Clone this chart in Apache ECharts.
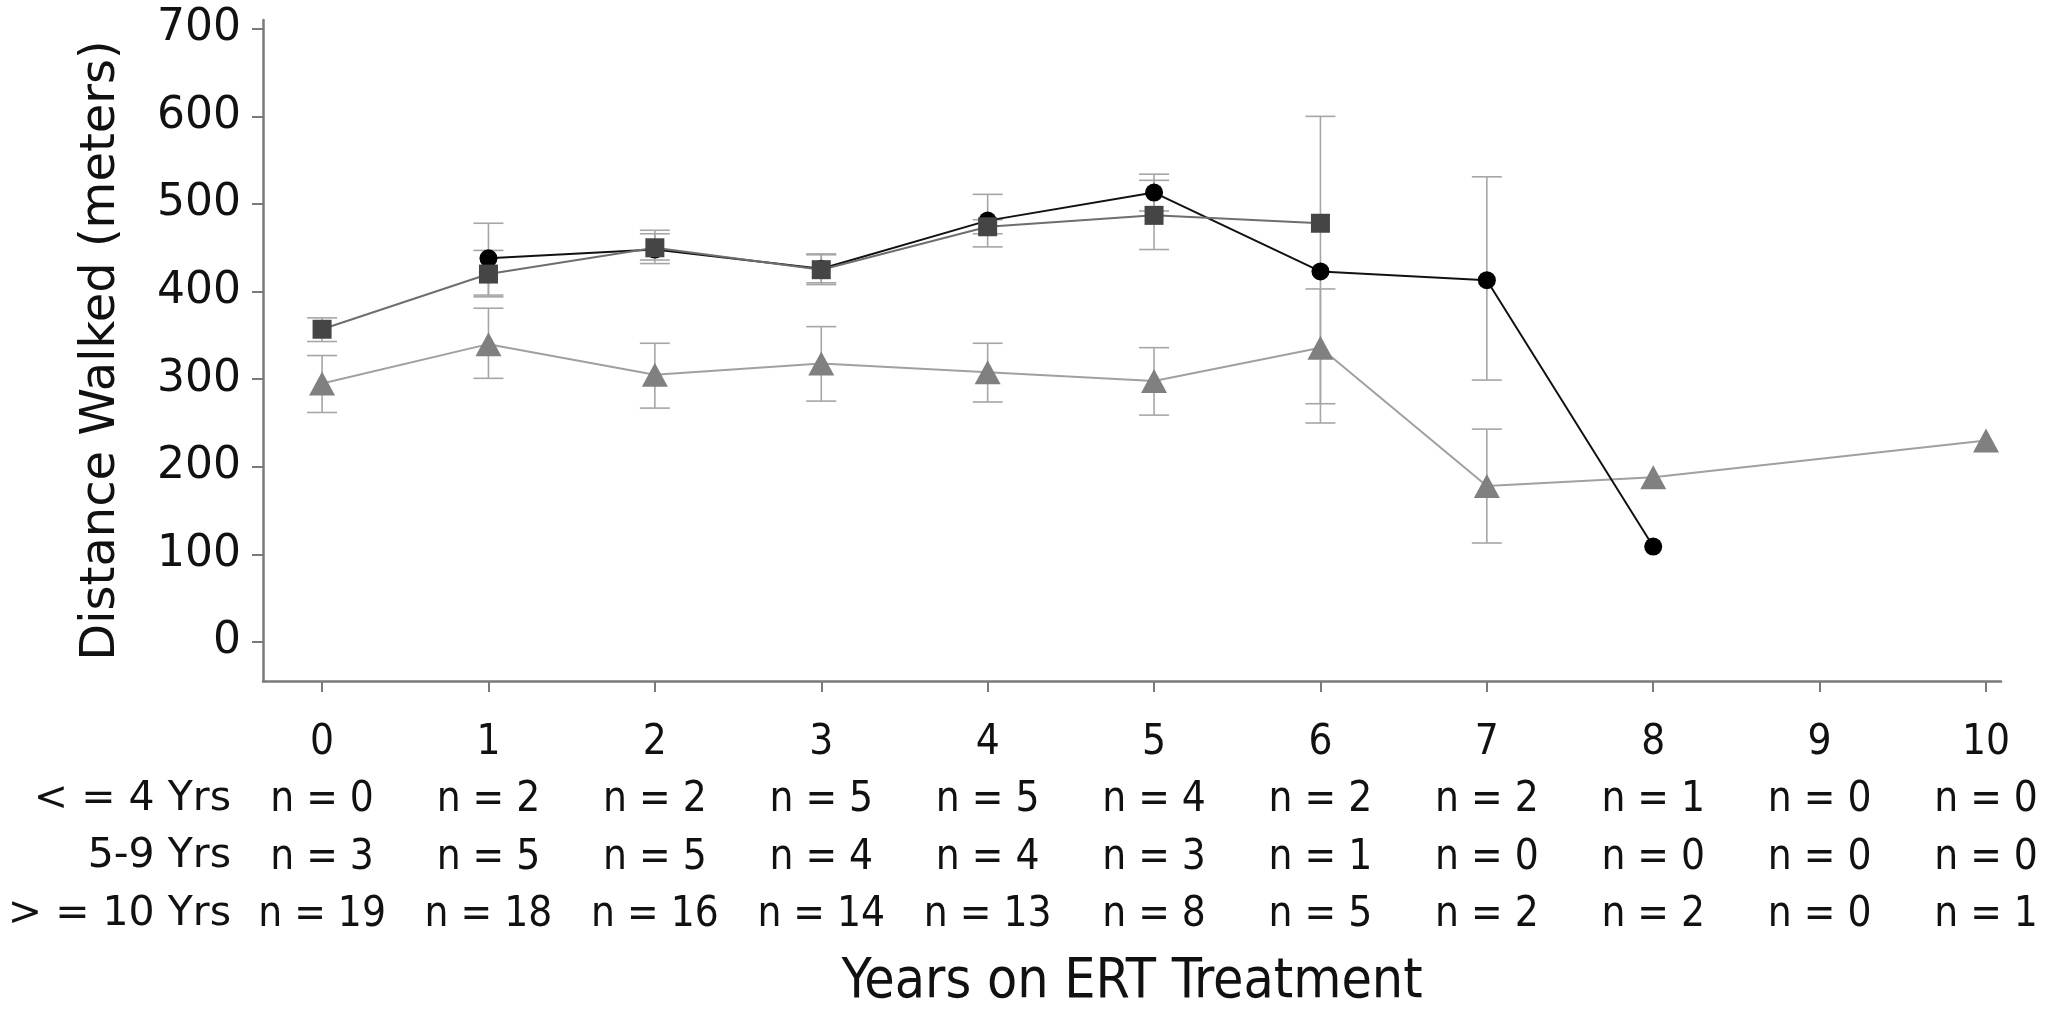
<!DOCTYPE html>
<html>
<head>
<meta charset="utf-8">
<script src="https://cdn.jsdelivr.net/npm/echarts@6/dist/echarts.min.js"></script>
<style>
html,body{margin:0;padding:0;background:#fff;}
#chart{width:2062px;height:1019px;}
</style>
</head>
<body>
<div id="chart"></div>
<script>
// ---- data ----
const years = [0, 1, 2, 3, 4, 5, 6, 7, 8, 9, 10];
const yTicks = [0, 100, 200, 300, 400, 500, 600, 700];

// <= 4 Yrs (black circles)
const le4Mean = [null, 438, 448, 426, 481, 513, 423, 413, 109, null, null];
const le4Lo   = [null, 396, 432, 410, 451, 492, 250, 299, null, null, null];
const le4Hi   = [null, 478, 466, 442, 511, 534, 600, 531, null, null, null];

// 5-9 Yrs (dark grey squares)
const midMean = [357, 420, 450, 425, 474, 487, 478, null, null, null, null];
const midLo   = [343, 394, 436, 408, 466, 448, null, null, null, null, null];
const midHi   = [370, 447, 470, 443, 482, 527, null, null, null, null, null];

// >= 10 Yrs (grey triangles)
const ge10Mean = [295, 340, 305, 318, 308, 298, 336, 178, 188, null, 230];
const ge10Lo   = [262, 301, 267, 275, 274, 259, 272, 113, null, null, null];
const ge10Hi   = [327, 381, 341, 360, 341, 336, 403, 243, null, null, null];

// patient counts per year
const rowLabels = ['< = 4 Yrs', '5-9 Yrs', '> = 10 Yrs'];
const nLe4  = [0, 2, 2, 5, 5, 4, 2, 2, 1, 0, 0];
const nMid  = [3, 5, 5, 4, 4, 3, 1, 0, 0, 0, 0];
const nGe10 = [19, 18, 16, 14, 13, 8, 5, 2, 2, 0, 1];

const xTitle = 'Years on ERT Treatment';
const yTitle = 'Distance Walked (meters)';

// ---- build ----
function pts(vals) {
  const out = [];
  years.forEach((x, i) => { if (vals[i] != null) out.push([x, vals[i]]); });
  return out;
}
function errs(lo, hi) {
  const out = [];
  years.forEach((x, i) => { if (lo[i] != null && hi[i] != null) out.push([x, lo[i], hi[i]]); });
  return out;
}
const ERR_COLOR = '#a6a6a6';
function errRender(params, api) {
  const x = api.value(0), lo = api.value(1), hi = api.value(2);
  const a = api.coord([x, lo]), b = api.coord([x, hi]);
  const w = 15;
  const st = { stroke: ERR_COLOR, lineWidth: 1.6, fill: null };
  return {
    type: 'group',
    children: [
      { type: 'line', shape: { x1: a[0], y1: a[1], x2: b[0], y2: b[1] }, style: st },
      { type: 'line', shape: { x1: a[0] - w, y1: a[1], x2: a[0] + w, y2: a[1] }, style: st },
      { type: 'line', shape: { x1: b[0] - w, y1: b[1], x2: b[0] + w, y2: b[1] }, style: st }
    ]
  };
}

const LOWER_FONT = "'DejaVu Sans Condensed', 'Liberation Sans Narrow', sans-serif";
const HEAD_FONT = "'DejaVu Sans', sans-serif";
const ROW_H = 57.5;
const chart = echarts.init(document.getElementById('chart'), null, { renderer: 'canvas' });

const option = {
  animation: false,
  backgroundColor: '#fff',
  grid: { left: 263, right: 61, top: 20, bottom: 338, containLabel: false },
  xAxis: {
    type: 'value',
    min: -0.355, max: 10.09,
    splitLine: { show: false },
    axisLine: { show: true, onZero: false, lineStyle: { color: '#7a7a7a', width: 2.5 } },
    axisTick: { show: true, length: 11, customValues: years, lineStyle: { color: '#7a7a7a', width: 2 } },
    axisLabel: {
      show: true, margin: 33, customValues: years,
      fontFamily: LOWER_FONT, fontSize: 42, color: '#111',
      formatter: function (v) {
        const i = years.indexOf(v);
        return '{t|' + v + '}\n{n|n = ' + nLe4[i] + '}\n{n|n = ' + nMid[i] + '}\n{n|n = ' + nGe10[i] + '}';
      },
      rich: {
        t: { fontFamily: LOWER_FONT, fontSize: 42, lineHeight: ROW_H, color: '#111' },
        n: { fontFamily: LOWER_FONT, fontSize: 42, lineHeight: ROW_H, color: '#111' }
      }
    },
    name: xTitle, nameLocation: 'middle', nameGap: 274,
    nameTextStyle: { fontFamily: LOWER_FONT, fontSize: 55, color: '#111' }
  },
  yAxis: {
    type: 'value',
    min: -44.5, max: 710,
    splitLine: { show: false },
    axisLine: { show: true, onZero: false, lineStyle: { color: '#7a7a7a', width: 2.5 } },
    axisTick: { show: true, length: 11, customValues: yTicks, lineStyle: { color: '#7a7a7a', width: 2 } },
    axisLabel: { show: true, margin: 22, customValues: yTicks, fontFamily: "'DejaVu Sans', sans-serif", fontSize: 44, color: '#111' },
    name: yTitle, nameLocation: 'middle', nameGap: 137, nameRotate: 90,
    nameTextStyle: { fontFamily: "'DejaVu Sans', sans-serif", fontSize: 48, color: '#111' }
  },
  graphic: rowLabels.map((t, k) => ({
    type: 'text', x: 231, y: 799 + ROW_H * k,
    style: { text: t, textAlign: 'right', textVerticalAlign: 'middle', font: '41px ' + HEAD_FONT, fill: '#111' }
  })),
  series: [
    { type: 'custom', name: 'err10', renderItem: errRender, data: errs(ge10Lo, ge10Hi), encode: { x: 0, y: [1, 2] }, z: 1, silent: true },
    { type: 'custom', name: 'errMid', renderItem: errRender, data: errs(midLo, midHi), encode: { x: 0, y: [1, 2] }, z: 1, silent: true },
    { type: 'custom', name: 'errLe4', renderItem: errRender, data: errs(le4Lo, le4Hi), encode: { x: 0, y: [1, 2] }, z: 1, silent: true },
    {
      type: 'line', name: '>= 10 Yrs', data: pts(ge10Mean), z: 3,
      symbol: 'triangle', symbolSize: [26, 24], showAllSymbol: true,
      lineStyle: { color: '#a0a0a0', width: 2 },
      itemStyle: { color: '#808080', borderWidth: 0 }
    },
    {
      type: 'line', name: '<= 4 Yrs', data: pts(le4Mean), z: 4,
      symbol: 'circle', symbolSize: 18, showAllSymbol: true,
      lineStyle: { color: '#111', width: 2 },
      itemStyle: { color: '#000', borderWidth: 0 }
    },
    {
      type: 'line', name: '5-9 Yrs', data: pts(midMean), z: 5,
      symbol: 'rect', symbolSize: 19, showAllSymbol: true,
      lineStyle: { color: '#6e6e6e', width: 2 },
      itemStyle: { color: '#454545', borderWidth: 0 }
    }
  ]
};
chart.setOption(option);
</script>
</body>
</html>
